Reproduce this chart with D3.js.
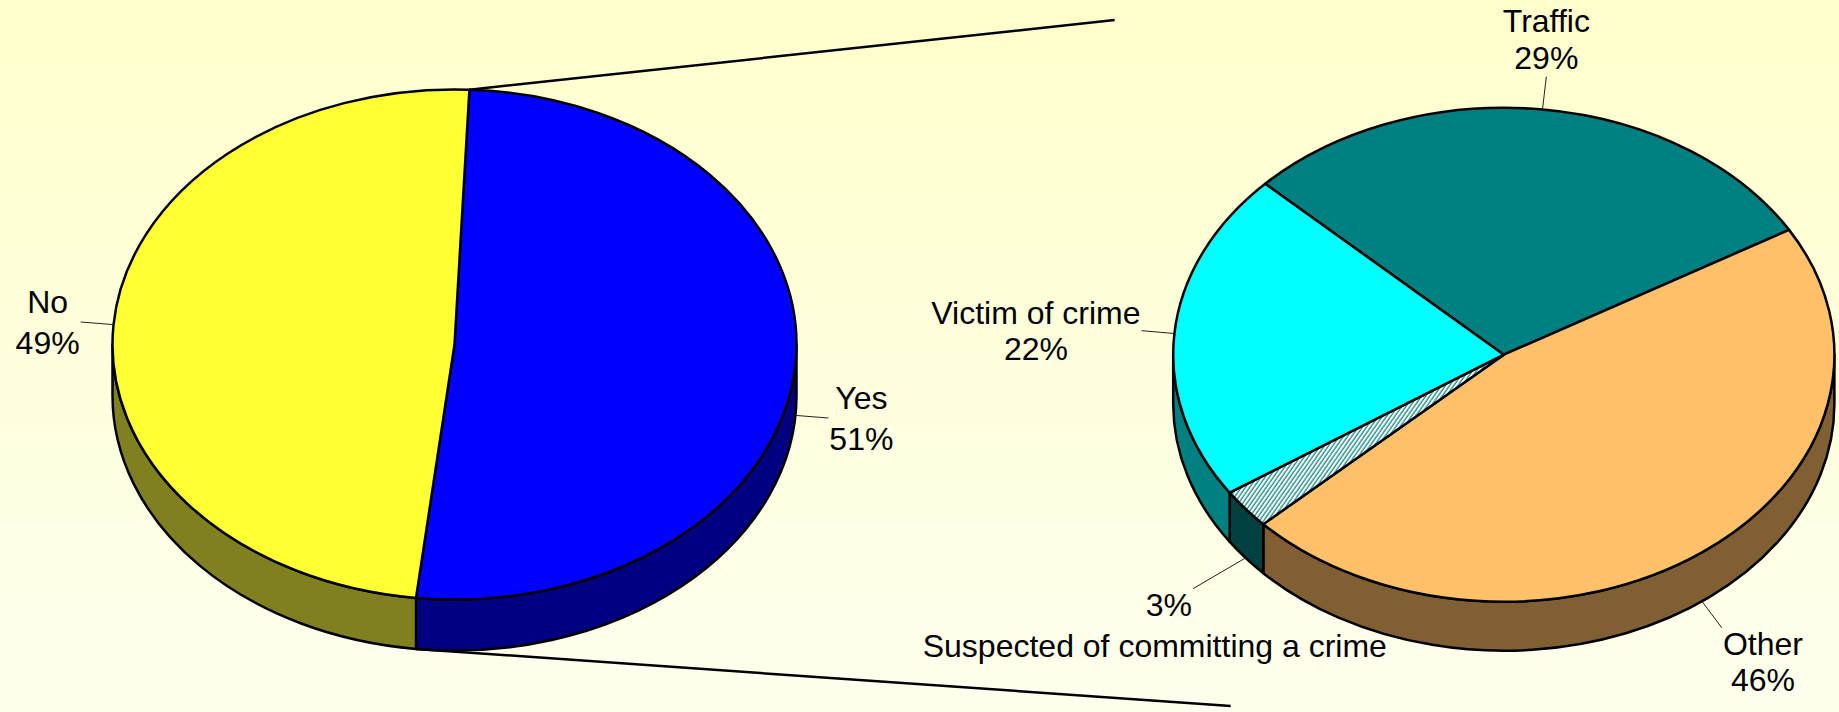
<!DOCTYPE html>
<html>
<head>
<meta charset="utf-8">
<script src="https://cdn.jsdelivr.net/npm/d3@7"></script>
<style>
  html, body { margin: 0; padding: 0; overflow: hidden; }
  svg { display: block; }
  text { font-family: Arial, "Liberation Sans", sans-serif; font-size: 32px; fill: #000; }
</style>
</head>
<body>
<div id="chart"></div>
<script>
// main pie: contact with the police
const mainCategories = ["Yes", "No"];
const mainValues = [51.1, 48.9];

// detail pie: reason for the contact (breakdown of "Yes")
const detailCategories = ["Traffic", "Other", "Suspected of committing a crime", "Victim of crime"];
const detailValues = [29.4, 46.4, 2.6, 21.6];

const width = 1839;
const height = 712;

const svg = d3.select("#chart")
  .append("svg")
  .attr("width", width)
  .attr("height", height);

const defs = svg.append("defs");

// background fades from pale yellow to almost white
const bg = defs.append("linearGradient")
  .attr("id", "bg")
  .attr("x1", 0).attr("y1", 0).attr("x2", 0).attr("y2", 1);
bg.append("stop").attr("offset", "0%").attr("stop-color", "#ffffcc");
bg.append("stop").attr("offset", "100%").attr("stop-color", "#ffffee");

svg.append("rect")
  .attr("width", width)
  .attr("height", height)
  .attr("fill", "url(#bg)");

// hatch for the small slice
const hatch = defs.append("pattern")
  .attr("id", "hatch")
  .attr("patternUnits", "userSpaceOnUse")
  .attr("width", 3.4)
  .attr("height", 10)
  .attr("patternTransform", "rotate(35)");
hatch.append("rect").attr("width", 3.4).attr("height", 10).attr("fill", "#fff");
hatch.append("line")
  .attr("x1", 1).attr("x2", 1).attr("y1", 0).attr("y2", 10)
  .attr("stroke", "#008080").attr("stroke-width", 1.2);

const topColor = d3.scaleOrdinal()
  .domain(mainCategories.concat(detailCategories))
  .range(["#0000ff", "#ffff33", "#008080", "#ffc06a", "url(#hatch)", "#00ffff"]);
const sideColor = d3.scaleOrdinal()
  .domain(mainCategories.concat(detailCategories))
  .range(["#000080", "#808020", "#008080", "#805f33", "#004040", "#008080"]);

const pieLeft = { cx: 454.5, cy: 344.5, rx: 342, ry: 255, depth: 51, start: 2.5, lineH: 41 };
const pieRight = { cx: 1503.8, cy: 354.7, rx: 330.6, ry: 247, depth: 49, start: -46.2, lineH: 36.6 };

// label tweaks (leader length, direction shift, name written under the value)
const labelTweak = {
  "Suspected of committing a crime": { len: 61, shift: 8.3, split: true }
};

const rad = Math.PI / 180;

function pt(g, a, dy = 0) {
  return [g.cx + g.rx * Math.sin(a), g.cy - g.ry * Math.cos(a) + dy];
}

function topPath(g, a0, a1) {
  const p0 = pt(g, a0), p1 = pt(g, a1);
  const large = a1 - a0 > Math.PI ? 1 : 0;
  return `M${g.cx},${g.cy}L${p0}A${g.rx},${g.ry} 0 ${large} 1 ${p1}Z`;
}

// outer wall, only the part facing the viewer (90deg..270deg)
function wallPath(g, a0, a1) {
  for (const k of [-1, 0, 1]) {
    const s = Math.max(a0 + k * 2 * Math.PI, Math.PI / 2);
    const e = Math.min(a1 + k * 2 * Math.PI, 3 * Math.PI / 2);
    if (e > s) {
      const p0 = pt(g, s), p1 = pt(g, e);
      const q0 = pt(g, s, g.depth), q1 = pt(g, e, g.depth);
      return `M${p0}A${g.rx},${g.ry} 0 0 1 ${p1}L${q1}A${g.rx},${g.ry} 0 0 0 ${q0}Z`;
    }
  }
  return null;
}

function drawPie(g, cats, vals) {
  const arcs = d3.pie()
    .sort(null)
    .value(d => d.value)
    .startAngle(g.start * rad)
    .endAngle(g.start * rad + 2 * Math.PI)(cats.map((c, i) => ({ name: c, value: vals[i] })));

  const layer = svg.append("g");

  layer.selectAll("path.wall")
    .data(arcs.filter(d => wallPath(g, d.startAngle, d.endAngle)))
    .enter()
    .append("path")
    .attr("class", "wall")
    .attr("d", d => wallPath(g, d.startAngle, d.endAngle))
    .attr("fill", d => sideColor(d.data.name))
    .attr("stroke", "#000")
    .attr("stroke-width", 2.5)
    .attr("stroke-linejoin", "round");

  layer.selectAll("path.top")
    .data(arcs)
    .enter()
    .append("path")
    .attr("class", "top")
    .attr("d", d => topPath(g, d.startAngle, d.endAngle))
    .attr("fill", d => topColor(d.data.name))
    .attr("stroke", "#000")
    .attr("stroke-width", 2.5)
    .attr("stroke-linejoin", "round");

  // labels with leader lines
  const total = d3.sum(vals);
  arcs.forEach(d => {
    const tw = labelTweak[d.data.name] || {};
    const mid = (d.startAngle + d.endAngle) / 2;
    const anchor = pt(g, mid, Math.cos(mid) > 0 ? 0 : g.depth);
    const dirA = mid + (tw.shift || 0) * rad;
    const dir = [Math.sin(dirA), -Math.cos(dirA)];
    const len = tw.len || 33;
    const end = [anchor[0] + dir[0] * len, anchor[1] + dir[1] * len];

    layer.append("line")
      .attr("x1", anchor[0]).attr("y1", anchor[1])
      .attr("x2", end[0]).attr("y2", end[1])
      .attr("stroke", "#222")
      .attr("stroke-width", 1);

    const pct = Math.round(d.value / total * 100) + "%";
    const lines = tw.split ? [pct] : [d.data.name, pct];
    const lh = g.lineH;

    const text = layer.append("text").attr("text-anchor", "middle");
    const spans = text.selectAll("tspan")
      .data(lines)
      .enter()
      .append("tspan")
      .attr("x", 0)
      .text(t => t);
    const w = text.node().getBBox().width;

    let cx = end[0];
    if (dir[0] > 0.3) cx = end[0] + w / 2 + 1;
    if (dir[0] < -0.3) cx = end[0] - w / 2 - 1;

    let b1 = end[1] - (lines.length - 1) * lh / 2 + 11.5;
    if (dir[1] > 0.3) b1 = end[1] + 27;
    if (dir[1] < -0.3) b1 = end[1] - 8 - (lines.length - 1) * lh;

    spans.attr("x", cx).attr("y", (t, i) => b1 + i * lh);

    if (tw.split) {
      layer.append("text")
        .attr("text-anchor", "middle")
        .attr("x", cx - 14)
        .attr("y", b1 + 41.7)
        .text(d.data.name);
    }
  });

  return arcs;
}

const leftArcs = drawPie(pieLeft, mainCategories, mainValues);
drawPie(pieRight, detailCategories, detailValues);

// connectors from the "Yes" slice to the detail pie
const yes = leftArcs[0];
const c1 = pt(pieLeft, yes.startAngle);
const c2 = pt(pieLeft, yes.endAngle, pieLeft.depth);

svg.append("line")
  .attr("x1", c1[0]).attr("y1", c1[1])
  .attr("x2", pieRight.cx - 389.2).attr("y2", pieRight.cy - 334.7)
  .attr("stroke", "#000")
  .attr("stroke-width", 2.5);

svg.append("line")
  .attr("x1", c2[0]).attr("y1", c2[1])
  .attr("x2", pieRight.cx - 273.1).attr("y2", pieRight.cy + 351.3)
  .attr("stroke", "#000")
  .attr("stroke-width", 2.5);
</script>
</body>
</html>
